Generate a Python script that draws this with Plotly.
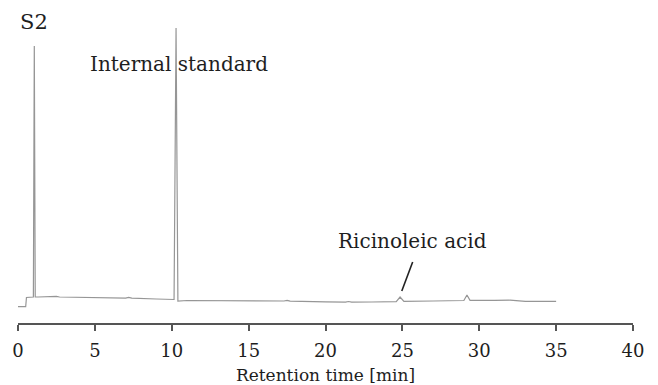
import plotly.graph_objects as go

# Retention time (min) and detector signal (arbitrary units)
time_min = [0.0, 0.50, 0.55, 0.9, 1.0, 1.06, 1.12, 1.3, 2.5, 2.7, 5.0, 7.0, 7.2, 7.4, 9.0,
            10.15, 10.28, 10.40, 11.0, 13.0, 15.0, 17.3, 17.5, 17.7, 20.0, 21.3, 21.5, 21.7,
            23.0, 24.6, 24.85, 25.1, 27.0, 29.0, 29.2, 29.4, 31.0, 32.0, 33.0, 35.0]
signal = [16.3, 16.3, 25.5, 26.0, 26.0, 277.0, 26.0, 26.0, 26.7, 26.0, 25.5, 24.8, 25.6, 24.8, 24.0,
          23.5, 295.0, 22.0, 22.5, 22.3, 22.0, 22.0, 22.6, 21.8, 21.2, 20.8, 21.5, 20.8,
          21.0, 21.3, 26.0, 21.6, 22.0, 22.5, 28.0, 22.6, 22.6, 22.8, 21.6, 21.6]

x_ticks = [0, 5, 10, 15, 20, 25, 30, 35, 40]

font_family = "DejaVu Serif"
text_color = "#1e1e1e"

fig = go.Figure()
fig.add_trace(go.Scatter(x=time_min, y=signal, mode="lines",
                         line=dict(color="#969696", width=1.2), showlegend=False,
                         hoverinfo="skip"))

fig.add_annotation(x=0, y=0.995, xref="paper", yref="paper", text="S2", showarrow=False,
                   xanchor="left", yanchor="middle", font=dict(family=font_family, size=21, color=text_color))
fig.add_annotation(x=4.55, y=259, xref="x", yref="y", text="Internal standard", showarrow=False,
                   xanchor="left", yanchor="middle", font=dict(family=font_family, size=20, color=text_color))
fig.add_annotation(x=25.66, y=82, xref="x", yref="y", text="Ricinoleic acid", showarrow=False,
                   xanchor="center", yanchor="middle", font=dict(family=font_family, size=20, color=text_color))
fig.add_shape(type="line", xref="x", yref="y", x0=24.96, y0=32, x1=25.67, y1=61,
              line=dict(color="#222", width=1.6))

fig.update_layout(
    width=658, height=385,
    margin=dict(l=18, r=25, t=20, b=62),
    paper_bgcolor="white", plot_bgcolor="white",
    font=dict(family=font_family, color=text_color),
    xaxis=dict(range=[0, 40], tickvals=x_ticks, ticktext=[str(v) for v in x_ticks],
               automargin=False,
               showline=True, linecolor="#555", linewidth=2, ticks="outside", ticklen=6,
               tickwidth=1.8, tickcolor="#555", showgrid=False, zeroline=False,
               ticklabelstandoff=4,
               tickfont=dict(family=font_family, size=18, color=text_color),
               title=dict(text="Retention time [min]", font=dict(family=font_family, size=17, color=text_color),
                          standoff=14)),
    yaxis=dict(range=[0, 303], visible=False, showgrid=False, zeroline=False, automargin=False),
)

fig.write_html("out.html")
